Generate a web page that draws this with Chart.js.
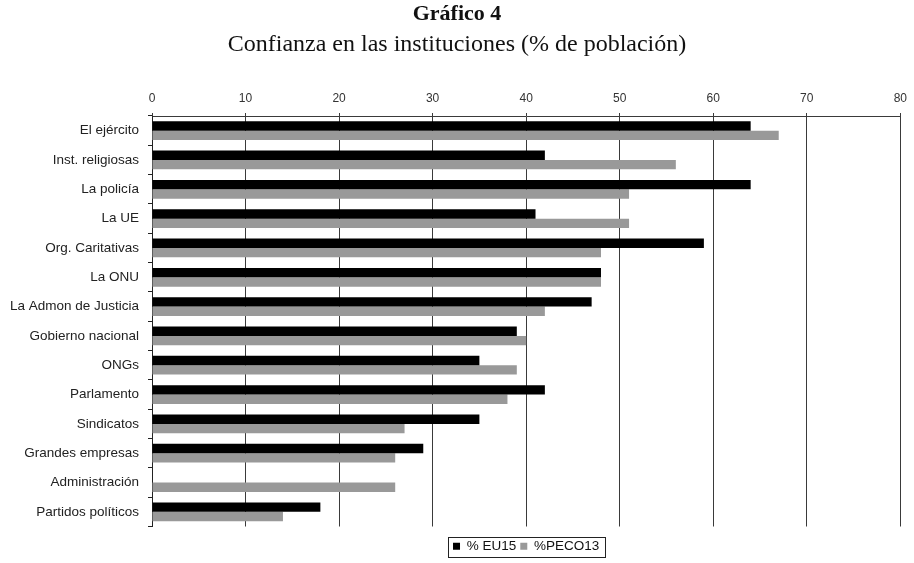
<!DOCTYPE html>
<html>
<head>
<meta charset="utf-8">
<script src="https://cdn.jsdelivr.net/npm/chart.js@4.4.1/dist/chart.umd.min.js"></script>
<style>
  html, body { margin: 0; padding: 0; background: #ffffff; }
  #c { display: block; }
</style>
</head>
<body>
<canvas id="c" width="914" height="563"></canvas>
<script>
// Institutions, top to bottom
const categories = [
  'El ejército', 'Inst. religiosas', 'La policía', 'La UE', 'Org. Caritativas',
  'La ONU', 'La Admon de Justicia', 'Gobierno nacional', 'ONGs', 'Parlamento',
  'Sindicatos', 'Grandes empresas', 'Administración', 'Partidos políticos'
];
// Confidence, % of population
const eu15   = [64, 42, 64, 41, 59, 48, 47, 39, 35, 42, 35, 29, null, 18];
const peco13 = [67, 56, 51, 51, 48, 48, 42, 40, 39, 38, 27, 26, 26, 14];
const seriesNames = ['% EU15', '%PECO13'];
const xTicks = [0, 10, 20, 30, 40, 50, 60, 70, 80];
const titleText = 'Gráfico 4';
const subtitleText = 'Confianza en las instituciones (% de población)';

const SANS = "'Liberation Sans', Arial, sans-serif";
const SERIF = "'Liberation Serif', 'Times New Roman', serif";

// Heading lines above the plot
const headings = {
  id: 'headings',
  afterDraw(chart) {
    const ctx = chart.ctx;
    const cx = chart.width / 2;
    ctx.save();
    ctx.fillStyle = '#111';
    ctx.textAlign = 'center';
    ctx.textBaseline = 'alphabetic';
    ctx.font = 'bold 22px ' + SERIF;
    ctx.fillText(titleText, cx, 20);
    ctx.font = '24px ' + SERIF;
    ctx.fillText(subtitleText, cx, 51);
    ctx.restore();
  }
};

// Thin frame around the legend entries
const legendFrame = {
  id: 'legendFrame',
  afterDraw(chart) {
    const lg = chart.legend;
    if (!lg || !lg.legendHitBoxes || !lg.legendHitBoxes.length) return;
    const hb = lg.legendHitBoxes;
    const last = hb[hb.length - 1];
    const x0 = Math.round(hb[0].left - 5) + 0.5;
    const x1 = Math.round(last.left + last.width + 6) + 0.5;
    const y0 = Math.round(hb[0].top - 3) + 0.5;
    const y1 = Math.round(hb[0].top + hb[0].height + 4) + 0.5;
    const ctx = chart.ctx;
    ctx.save();
    ctx.strokeStyle = '#222';
    ctx.lineWidth = 1;
    ctx.strokeRect(x0, y0, x1 - x0, y1 - y0);
    ctx.restore();
  }
};

new Chart(document.getElementById('c'), {
  type: 'bar',
  data: {
    labels: categories,
    datasets: [
      { label: seriesNames[0], data: eu15, backgroundColor: '#000000', borderWidth: 0 },
      { label: seriesNames[1], data: peco13, backgroundColor: '#999999', borderWidth: 0 }
    ]
  },
  options: {
    indexAxis: 'y',
    responsive: false,
    animation: false,
    devicePixelRatio: 1,
    categoryPercentage: 0.64,
    barPercentage: 1.0,
    layout: { padding: { left: 0, right: 6, top: 92, bottom: 0 } },
    scales: {
      x: {
        type: 'linear',
        position: 'top',
        min: 0,
        max: 80,
        z: 1,
        afterBuildTicks(scale) { scale.ticks = xTicks.map(v => ({ value: v })); },
        afterFit(scale) { scale.height = 24; },
        ticks: {
          font: { family: SANS, size: 12 },
          color: '#333',
          padding: 7,
          maxRotation: 0
        },
        grid: { color: '#3a3a3a', lineWidth: 1, tickLength: 3, drawTicks: true },
        border: { color: '#3a3a3a', width: 1 }
      },
      y: {
        type: 'category',
        offset: true,
        afterFit(scale) { scale.width = 152; },
        ticks: {
          font: { family: SANS, size: 13.5 },
          color: '#222',
          padding: 9,
          autoSkip: false
        },
        grid: { offset: true, drawOnChartArea: false, tickLength: 4, color: '#222' },
        border: { color: '#222', width: 1 }
      }
    },
    plugins: {
      legend: {
        position: 'bottom',
        fullSize: false,
        title: { display: true, text: '', padding: 0, font: { size: 9, lineHeight: 1 } },
        labels: {
          boxWidth: 7,
          boxHeight: 7,
          padding: 4,
          color: '#111',
          font: { family: SANS, size: 13.5 }
        }
      },
      tooltip: { enabled: false }
    }
  },
  plugins: [headings, legendFrame]
});
</script>
</body>
</html>
